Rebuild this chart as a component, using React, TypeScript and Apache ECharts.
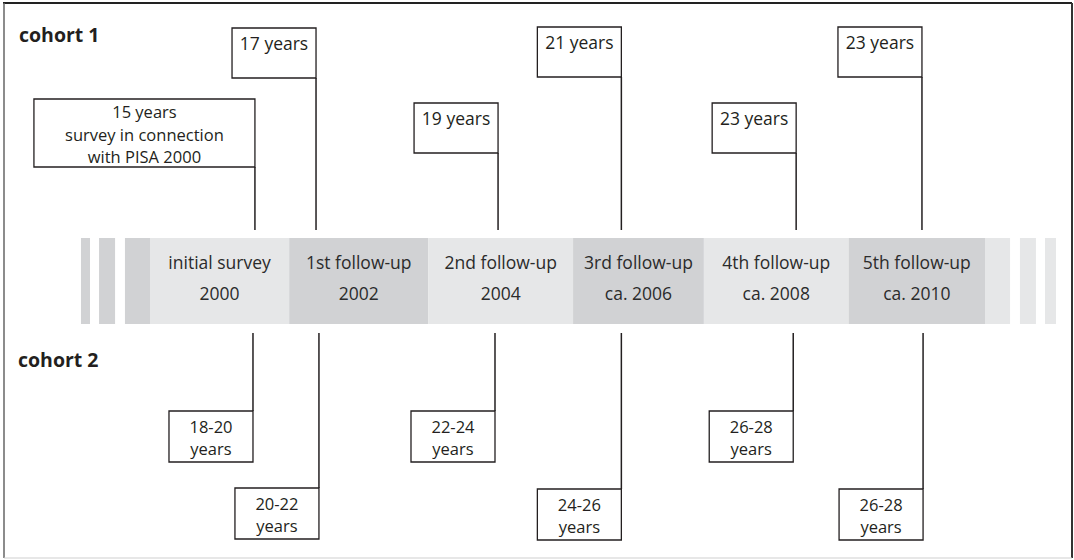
import React, { useEffect, useRef } from "react";
import * as echarts from "echarts";

// ---- data ----
const waves = ["initial survey", "1st follow-up", "2nd follow-up", "3rd follow-up", "4th follow-up", "5th follow-up"];
const waveYears = ["2000", "2002", "2004", "ca. 2006", "ca. 2008", "ca. 2010"];
const cohort1Ages = ["15 years\nsurvey in connection\nwith PISA 2000", "17 years", "19 years", "21 years", "23 years", "23 years"];
const cohort2Ages = ["18-20\nyears", "20-22\nyears", "22-24\nyears", "24-26\nyears", "26-28\nyears", "26-28\nyears"];
const cohortLabels = ["cohort 1", "cohort 2"];

// ---- layout (wave units on x, pixel units on y) ----
const segEdges = [0, 1, 2, 3.04, 3.98, 5.02, 6];
const leftStripes = [[-0.496, -0.431], [-0.366, -0.251], [-0.18, 0]];
const rightStripes = [[6, 6.18], [6.251, 6.366], [6.431, 6.51]];
const c1LineX = [0.754, 1.193, 2.501, 3.387, 4.643, 5.547];
const c1BoxTop = [99, 28, 103, 27, 103, 27];
const c1BoxW = [221, 84, 84, 84, 84, 84];
const c1BoxH = [68, 50, 50, 50, 50, 50];
const c2LineX = [0.74, 1.214, 2.479, 3.387, 4.622, 5.555];
const c2BoxTop = [411, 488, 411, 489, 411, 489];

const BAND_TOP = 238;
const BAND_BOTTOM = 324;
const UP_LINE_END = 230;
const DOWN_LINE_START = 333;

const LIGHT = "#e6e7e8";
const DARK = "#d1d2d4";
const INK = "#231f20";
const FONT = "Open Sans";
const FS = 17.5;
const BOX_FS = 16.5;
const LH = 22.5;

function textLines(label: string, cx: number, cy: number) {
  const lines = label.split("\n");
  const n = lines.length;
  const fs = n > 1 ? BOX_FS : FS;
  return lines.map((t, k) => ({
    type: "text",
    x: cx,
    y: cy + (k - (n - 1) / 2) * LH,
    style: {
      text: t,
      fill: INK,
      font: `${fs}px "${FONT}"`,
      align: "center",
      verticalAlign: "middle",
    },
  }));
}

export default function App() {
  const ref = useRef<HTMLDivElement>(null);

  useEffect(() => {
    if (!ref.current) return;
    const chart = echarts.init(ref.current, null, { renderer: "svg" });

    const bandSeries = {
      type: "custom",
      clip: false,
      data: waves.map((_, i) => [i, 0]),
      renderItem: (params: any, api: any) => {
        const i = api.value(0);
        const p0 = api.coord([segEdges[i], BAND_TOP]);
        const p1 = api.coord([segEdges[i + 1], BAND_BOTTOM]);
        const cx = (p0[0] + p1[0]) / 2;
        return {
          type: "group",
          children: [
            {
              type: "rect",
              shape: { x: p0[0], y: p0[1], width: p1[0] - p0[0], height: p1[1] - p0[1] },
              style: { fill: i % 2 === 0 ? LIGHT : DARK },
            },
            {
              type: "text",
              x: cx,
              y: api.coord([0, 262])[1],
              style: { text: waves[i], fill: "#2b2b2b", font: `${FS}px "${FONT}"`, align: "center", verticalAlign: "middle" },
            },
            {
              type: "text",
              x: cx,
              y: api.coord([0, 293])[1],
              style: { text: waveYears[i], fill: "#2b2b2b", font: `${FS}px "${FONT}"`, align: "center", verticalAlign: "middle" },
            },
          ],
        };
      },
    };

    const stripeSeries = {
      type: "custom",
      clip: false,
      data: [...leftStripes, ...rightStripes].map((s, i) => [s[0], s[1], i < leftStripes.length ? 0 : 1]),
      renderItem: (params: any, api: any) => {
        const p0 = api.coord([api.value(0), BAND_TOP]);
        const p1 = api.coord([api.value(1), BAND_BOTTOM]);
        return {
          type: "rect",
          shape: { x: p0[0], y: p0[1], width: p1[0] - p0[0], height: p1[1] - p0[1] },
          style: { fill: api.value(2) === 0 ? DARK : LIGHT },
        };
      },
    };

    const cohort1Series = {
      type: "custom",
      clip: false,
      data: cohort1Ages.map((_, i) => [c1LineX[i], c1BoxTop[i]]),
      renderItem: (params: any, api: any) => {
        const i = params.dataIndex;
        const p = api.coord([api.value(0), api.value(1)]);
        const bottom = api.coord([0, UP_LINE_END])[1];
        const w = c1BoxW[i];
        const h = c1BoxH[i];
        const multi = cohort1Ages[i].includes("\n");
        return {
          type: "group",
          children: [
            {
              type: "rect",
              shape: { x: p[0] - w, y: p[1], width: w, height: h },
              style: { fill: "#fff", stroke: INK, lineWidth: 1.3 },
            },
            {
              type: "line",
              shape: { x1: p[0], y1: p[1] + h, x2: p[0], y2: bottom },
              style: { stroke: INK, lineWidth: 1.5 },
            },
            ...textLines(cohort1Ages[i], p[0] - w / 2, multi ? p[1] + h / 2 + 1 : p[1] + 15),
          ],
        };
      },
    };

    const cohort2Series = {
      type: "custom",
      clip: false,
      data: cohort2Ages.map((_, i) => [c2LineX[i], c2BoxTop[i]]),
      renderItem: (params: any, api: any) => {
        const i = params.dataIndex;
        const p = api.coord([api.value(0), api.value(1)]);
        const top = api.coord([0, DOWN_LINE_START])[1];
        const w = 84;
        const h = 51;
        return {
          type: "group",
          children: [
            {
              type: "line",
              shape: { x1: p[0], y1: top, x2: p[0], y2: p[1] },
              style: { stroke: INK, lineWidth: 1.5 },
            },
            {
              type: "rect",
              shape: { x: p[0] - w, y: p[1], width: w, height: h },
              style: { fill: "#fff", stroke: INK, lineWidth: 1.3 },
            },
            ...textLines(cohort2Ages[i], p[0] - w / 2, p[1] + h / 2 + 1),
          ],
        };
      },
    };

    chart.setOption({
      animation: false,
      backgroundColor: "#fff",
      grid: { left: 150, right: 89, top: 0, bottom: 0 },
      xAxis: { type: "value", min: 0, max: 6, show: false },
      yAxis: { type: "value", min: 0, max: 560, inverse: true, show: false },
      graphic: [
        { type: "line", shape: { x1: 3, y1: 3, x2: 1072, y2: 3 }, style: { stroke: "#222", lineWidth: 2 } },
        { type: "line", shape: { x1: 4, y1: 3, x2: 4, y2: 558 }, style: { stroke: "#666", lineWidth: 1.5 } },
        { type: "line", shape: { x1: 1072, y1: 3, x2: 1072, y2: 558 }, style: { stroke: "#333", lineWidth: 2 } },
        { type: "line", shape: { x1: 4, y1: 558, x2: 1072, y2: 558 }, style: { stroke: "#cfcfcf", lineWidth: 1 } },
        {
          type: "text",
          left: 19,
          top: 24,
          style: { text: cohortLabels[0], fill: INK, font: `bold 19.5px "${FONT}"` },
        },
        {
          type: "text",
          left: 18,
          top: 349,
          style: { text: cohortLabels[1], fill: INK, font: `bold 19.5px "${FONT}"` },
        },
      ],
      series: [stripeSeries, bandSeries, cohort1Series, cohort2Series],
    });

    return () => chart.dispose();
  }, []);

  return (
    <div
      ref={ref}
      style={{ position: "absolute", left: 0, top: 0, width: 1074, height: 560 }}
    />
  );
}
